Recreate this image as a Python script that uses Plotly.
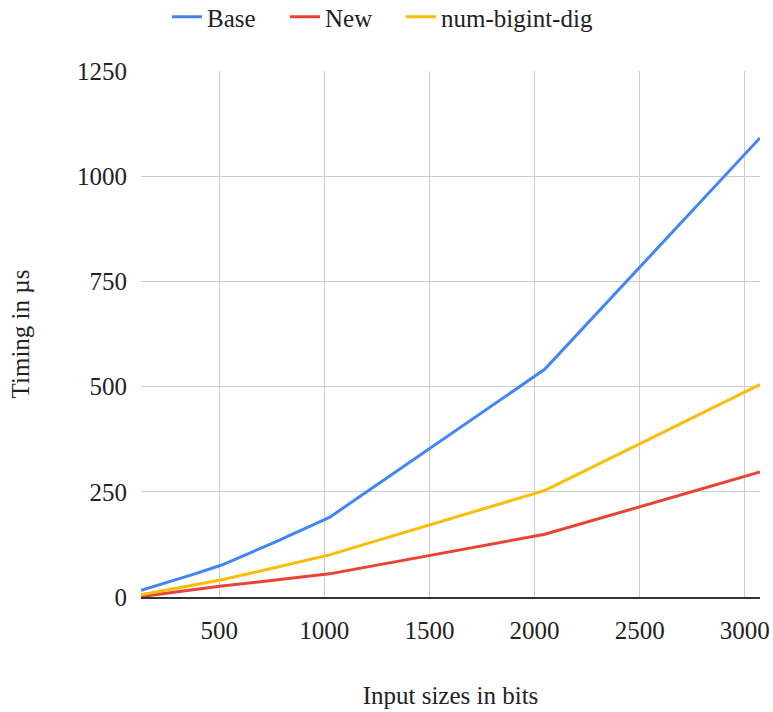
import plotly.graph_objects as go

sizes = [128, 256, 384, 512, 768, 1024, 2048, 3072]
base = [16, 35, 55, 76, 131, 189, 541, 1091]
new = [1, 10, 18, 26, 40, 55, 149, 297]
num_bigint_dig = [5, 17, 29, 41, 70, 100, 253, 505]

series_names = ["Base", "New", "num-bigint-dig"]
x_ticks = [500, 1000, 1500, 2000, 2500, 3000]
y_ticks = [0, 250, 500, 750, 1000, 1250]

FONT = "Liberation Serif, Times New Roman, serif"
FS = 25
colors = ["#4285F4", "#EA4335", "#FBBC04"]
legend_ids = ["legend", "legend2", "legend3"]
legend_x = [167 / 773, 285 / 773, 401 / 773]

fig = go.Figure()
for name, vals, color, lid in zip(series_names, [base, new, num_bigint_dig], colors, legend_ids):
    fig.add_trace(go.Scatter(x=sizes, y=vals, name=name, mode="lines",
                             line=dict(color=color, width=3), legend=lid))

legend_common = dict(orientation="h", xref="container", xanchor="left",
                     yref="container", y=1 - 17 / 712, yanchor="middle",
                     bgcolor="rgba(0,0,0,0)",
                     font=dict(family=FONT, size=FS, color="#222222"), itemwidth=30)

fig.update_layout(
    width=773, height=712, autosize=False,
    margin=dict(l=141, r=13, t=71, b=115, autoexpand=False),
    paper_bgcolor="white", plot_bgcolor="white",
    font=dict(family=FONT, size=FS, color="#222222"),
    showlegend=True,
    legend=dict(x=legend_x[0], **legend_common),
    legend2=dict(x=legend_x[1], **legend_common),
    legend3=dict(x=legend_x[2], **legend_common),
    xaxis=dict(range=[128, 3072], tickvals=x_ticks, showgrid=True,
               gridcolor="#cccccc", gridwidth=1.3, zeroline=False,
               showline=True, linecolor="#333333", linewidth=1.5,
               ticks="", ticklabelstandoff=10, automargin=False,
               tickfont=dict(family=FONT, size=FS),
               title=dict(text="Input sizes in bits", standoff=44,
                          font=dict(family=FONT, size=FS))),
    yaxis=dict(range=[0, 1250], tickvals=y_ticks, showgrid=True,
               gridcolor="#cccccc", gridwidth=1.3, zeroline=False,
               showline=False, ticks="", ticklabelstandoff=13, automargin=False,
               tickfont=dict(family=FONT, size=FS),
               title=dict(text="Timing in µs", standoff=40,
                          font=dict(family=FONT, size=FS))),
)

fig.write_html("out.html", config={"displayModeBar": False},
               post_script="document.body.style.margin='0';")
